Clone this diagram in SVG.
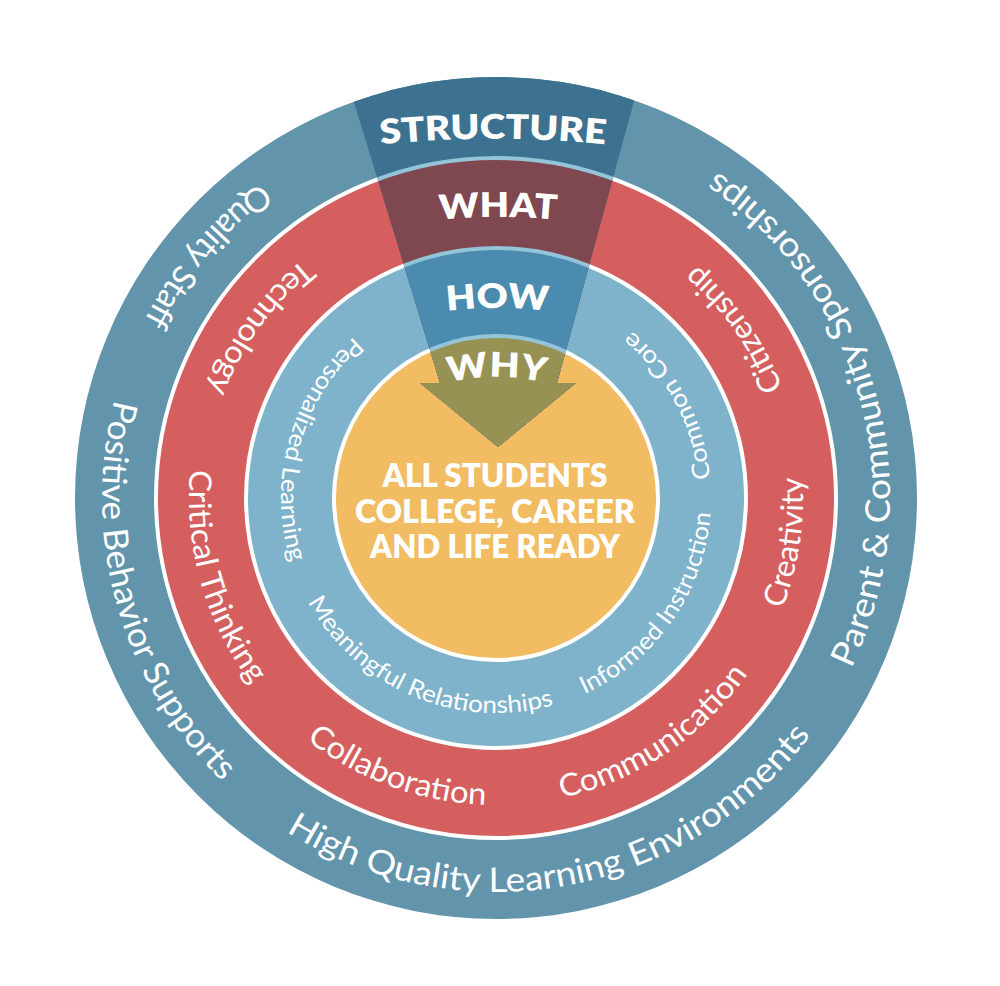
<svg xmlns="http://www.w3.org/2000/svg" width="1000" height="986" viewBox="0 0 1000 986">
  <style>
    .lbl { font-family: Lato, "Noto Sans", sans-serif; fill: #ffffff; }
    .outer { font-size: 34px; }
    .mid { font-size: 31px; }
    .inner { font-size: 24px; }
    .head { font-family: Lato, "Noto Sans", sans-serif; font-weight: 800; fill: #ffffff; font-size: 34px; }
    .core { font-family: Lato, "Noto Sans", sans-serif; font-weight: 800; fill: #ffffff; font-size: 32px; text-anchor: middle; }
    .sep { stroke: #ffffff; stroke-width: 4; }
    .sepw { stroke: #94C4D8; stroke-width: 4; }
  </style>
  <defs>
    <path id="p-outer" d="M 496 104 A 394 394 0 1 0 496 892 A 394 394 0 1 0 496 104"/>
    <path id="p-mid" d="M 496 191 A 307 307 0 1 0 496 805 A 307 307 0 1 0 496 191"/>
    <path id="p-inner" d="M 496 283 A 215 215 0 1 0 496 713 A 215 215 0 1 0 496 283"/>
    <path id="p-structure" d="M 358 147 A 1100 1100 0 0 1 628 147"/>
    <path id="p-what" d="M 420 222 A 600 600 0 0 1 576 222"/>
    <path id="p-how" d="M 430 313.7 A 400 400 0 0 1 565 313.7"/>
    <path id="p-why" d="M 440 385 A 200 200 0 0 1 553 385"/>
    <clipPath id="wedge-clip">
      <polygon points="338,50 648,50 557,383 576,383 498,447 420,383 440,383"/>
    </clipPath>
  </defs>

  <g id="outer-ring">
    <circle cx="496" cy="498" r="421" fill="#6294AC"/>
  </g>
  <g id="red-ring">
    <circle cx="496" cy="498" r="340" fill="#D55F5F" class="sep"/>
  </g>
  <g id="lightblue-ring">
    <circle cx="496" cy="498" r="250" fill="#7EB3CB" class="sep"/>
  </g>
  <g id="core">
    <circle cx="496" cy="498" r="162" fill="#F1BC62" class="sep"/>
  </g>

  <g id="connectors">
    <g id="wedge-arrow" clip-path="url(#wedge-clip)">
      <circle cx="496" cy="498" r="421" fill="#3C7190"/>
      <circle cx="496" cy="498" r="340" fill="#7F4850" class="sepw"/>
      <circle cx="496" cy="498" r="250" fill="#4A8BAF" class="sepw"/>
      <circle cx="496" cy="498" r="162" fill="#979253" class="sepw"/>
    </g>
  </g>

  <g id="headers">
    <text class="head"><textPath href="#p-structure" startOffset="50%" text-anchor="middle" textLength="225" lengthAdjust="spacingAndGlyphs">STRUCTURE</textPath></text>
    <text class="head"><textPath href="#p-what" startOffset="50%" text-anchor="middle" textLength="117" lengthAdjust="spacingAndGlyphs">WHAT</textPath></text>
    <text class="head"><textPath href="#p-how" startOffset="50%" text-anchor="middle" textLength="101" lengthAdjust="spacingAndGlyphs">HOW</textPath></text>
    <text class="head"><textPath href="#p-why" startOffset="50%" text-anchor="middle" textLength="97" lengthAdjust="spacingAndGlyphs">WHY</textPath></text>
  </g>

  <g id="outer-labels">
    <text class="lbl outer"><textPath href="#p-outer" startOffset="344" text-anchor="middle" textLength="182" lengthAdjust="spacingAndGlyphs">Quality Staff</textPath></text>
    <text class="lbl outer"><textPath href="#p-outer" startOffset="727" text-anchor="middle" textLength="416" lengthAdjust="spacingAndGlyphs">Positive Behavior Supports</textPath></text>
    <text class="lbl outer"><textPath href="#p-outer" startOffset="1309" text-anchor="middle" textLength="586" lengthAdjust="spacingAndGlyphs">High Quality Learning Environments</textPath></text>
    <text class="lbl outer"><textPath href="#p-outer" startOffset="1960" text-anchor="middle" textLength="561" lengthAdjust="spacingAndGlyphs">Parent &amp; Community Sponsorships</textPath></text>
  </g>

  <g id="red-labels">
    <text class="lbl mid"><textPath href="#p-mid" startOffset="290" text-anchor="middle" textLength="164" lengthAdjust="spacingAndGlyphs">Technology</textPath></text>
    <text class="lbl mid"><textPath href="#p-mid" startOffset="568" text-anchor="middle" textLength="229" lengthAdjust="spacingAndGlyphs">Critical Thinking</textPath></text>
    <text class="lbl mid"><textPath href="#p-mid" startOffset="857" text-anchor="middle" textLength="194" lengthAdjust="spacingAndGlyphs">Collaboration</textPath></text>
    <text class="lbl mid"><textPath href="#p-mid" startOffset="1145" text-anchor="middle" textLength="229" lengthAdjust="spacingAndGlyphs">Communication</textPath></text>
    <text class="lbl mid"><textPath href="#p-mid" startOffset="1400" text-anchor="middle" textLength="135" lengthAdjust="spacingAndGlyphs">Creativity</textPath></text>
    <text class="lbl mid"><textPath href="#p-mid" startOffset="1635" text-anchor="middle" textLength="152" lengthAdjust="spacingAndGlyphs">Citizenship</textPath></text>
  </g>

  <g id="lightblue-labels">
    <text class="lbl inner"><textPath href="#p-inner" startOffset="279" text-anchor="middle" textLength="248" lengthAdjust="spacingAndGlyphs">Personalized Learning</textPath></text>
    <text class="lbl inner"><textPath href="#p-inner" startOffset="590" text-anchor="middle" textLength="288" lengthAdjust="spacingAndGlyphs">Meaningful Relationships</textPath></text>
    <text class="lbl inner"><textPath href="#p-inner" startOffset="882" text-anchor="middle" textLength="232" lengthAdjust="spacingAndGlyphs">Informed Instruction</textPath></text>
    <text class="lbl inner"><textPath href="#p-inner" startOffset="1118" text-anchor="middle" textLength="172" lengthAdjust="spacingAndGlyphs">Common Core</textPath></text>
  </g>

  <g id="core-text">
    <text class="core" x="495" y="487" textLength="225" lengthAdjust="spacingAndGlyphs">ALL STUDENTS</text>
    <text class="core" x="495" y="523" textLength="280" lengthAdjust="spacingAndGlyphs">COLLEGE, CAREER</text>
    <text class="core" x="495" y="558" textLength="250" lengthAdjust="spacingAndGlyphs">AND LIFE READY</text>
  </g>
</svg>
